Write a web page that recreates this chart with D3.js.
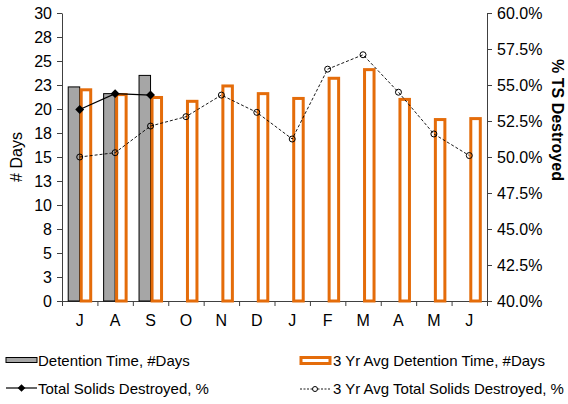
<!DOCTYPE html>
<html>
<head>
<meta charset="utf-8">
<script src="https://cdn.jsdelivr.net/npm/d3@7"></script>
<style>
  body { margin: 0; background: #fff; }
  svg { font-family: "Liberation Sans", Arial, sans-serif; }
  .axis path, .axis line { stroke: #404040; }
  .axis text { font-size: 16px; fill: #000; }
</style>
</head>
<body>
<svg id="chart" width="568" height="404"></svg>
<script>
// months (Jul .. Jun)
const months = ["J", "A", "S", "O", "N", "D", "J", "F", "M", "A", "M", "J"];
// detention time, days (only first three months reported)
const detention = [22.3, 21.6, 23.5];
// 3 yr avg detention time, days
const avgDetention = [22.0, 21.5, 21.2, 20.8, 22.4, 21.6, 21.1, 23.2, 24.1, 21.0, 18.9, 19.0];
// total solids destroyed, %
const tsDestroyed = [53.3, 54.4, 54.3];
// 3 yr avg total solids destroyed, %
const avgTsDestroyed = [50.0, 50.3, 52.15, 52.8, 54.3, 53.1, 51.25, 56.1, 57.1, 54.5, 51.6, 50.1];
// left axis tick values and their (rounded) labels
const leftTicks = [0, 2.5, 5, 7.5, 10, 12.5, 15, 17.5, 20, 22.5, 25, 27.5, 30];
const leftTickLabels = ["0", "3", "5", "8", "10", "13", "15", "18", "20", "23", "25", "28", "30"];
const rightTicks = [40, 42.5, 45, 47.5, 50, 52.5, 55, 57.5, 60];
const legendLabels = ["Detention Time, #Days", "3 Yr Avg Detention Time, #Days",
                      "Total Solids Destroyed, %", "3 Yr Avg Total Solids Destroyed, %"];

const plotLeft = 62, plotRight = 487, plotTop = 13, plotBottom = 301;
const orange = "#e46c0a", grey = "#a6a6a6";

const svg = d3.select("#chart");

const x = d3.scaleBand().domain(d3.range(months.length)).range([plotLeft, plotRight]);
const xEdge = d3.scaleLinear().domain([0, months.length]).range([plotLeft, plotRight]);
const y = d3.scaleLinear().domain([0, 30]).range([plotBottom, plotTop]);
const y2 = d3.scaleLinear().domain([40, 60]).range([plotBottom, plotTop]);
const cx = i => x(i) + x.bandwidth() / 2;

// axes
svg.append("g")
    .attr("class", "axis")
    .attr("transform", `translate(${plotLeft},0)`)
    .call(d3.axisLeft(y).tickValues(leftTicks).tickSize(5).tickSizeOuter(0)
        .tickFormat((d, i) => leftTickLabels[i]))
    .call(g => g.selectAll("text").attr("dx", "-2"));

svg.append("g")
    .attr("class", "axis")
    .attr("transform", `translate(${plotRight},0)`)
    .call(d3.axisRight(y2).tickValues(rightTicks).tickSize(5).tickSizeOuter(0)
        .tickFormat(d => d3.format(".1f")(d) + "%"))
    .call(g => g.selectAll("text").attr("dx", "2"));

svg.append("g")
    .attr("class", "axis")
    .attr("transform", `translate(0,${plotBottom})`)
    .call(d3.axisBottom(xEdge).tickValues(d3.range(months.length + 1)).tickSize(5)
        .tickSizeOuter(0).tickFormat(""));

svg.append("g")
    .attr("class", "axis")
    .selectAll("text")
    .data(months)
    .join("text")
    .attr("x", (d, i) => cx(i))
    .attr("y", 326)
    .attr("text-anchor", "middle")
    .text(d => d);

// axis titles
svg.append("text")
    .attr("transform", `translate(22,157) rotate(-90)`)
    .attr("text-anchor", "middle")
    .style("font-size", "16px")
    .text("# Days");

svg.append("text")
    .attr("transform", `translate(552,120) rotate(90)`)
    .attr("text-anchor", "middle")
    .style("font-size", "16px")
    .style("font-weight", "bold")
    .text("% TS Destroyed");

// bars
svg.append("g")
    .selectAll("rect")
    .data(detention)
    .join("rect")
    .attr("x", (d, i) => cx(i) - 11.5)
    .attr("width", 11.5)
    .attr("y", d => y(d))
    .attr("height", d => plotBottom - y(d))
    .attr("fill", grey)
    .attr("stroke", "#000")
    .attr("stroke-width", 1);

svg.append("g")
    .selectAll("rect")
    .data(avgDetention)
    .join("rect")
    .attr("x", (d, i) => cx(i) + 1.5)
    .attr("width", 9.5)
    .attr("y", d => y(d))
    .attr("height", d => plotBottom - y(d))
    .attr("fill", "#fff")
    .attr("stroke", orange)
    .attr("stroke-width", 3);

// lines
const lineTs = d3.line().x((d, i) => cx(i)).y(d => y2(d));

svg.append("path")
    .datum(avgTsDestroyed)
    .attr("fill", "none")
    .attr("stroke", "#000")
    .attr("stroke-width", 0.9)
    .attr("stroke-dasharray", "3,2")
    .attr("d", lineTs);

svg.append("g")
    .selectAll("circle")
    .data(avgTsDestroyed)
    .join("circle")
    .attr("cx", (d, i) => cx(i))
    .attr("cy", d => y2(d))
    .attr("r", 3)
    .attr("fill", "none")
    .attr("stroke", "#000")
    .attr("stroke-width", 1);

svg.append("path")
    .datum(tsDestroyed)
    .attr("fill", "none")
    .attr("stroke", "#000")
    .attr("stroke-width", 1.2)
    .attr("d", lineTs);

const diamond = d3.symbol(d3.symbolSquare, 40);
svg.append("g")
    .selectAll("path")
    .data(tsDestroyed)
    .join("path")
    .attr("transform", (d, i) => `translate(${cx(i)},${y2(d)}) rotate(45)`)
    .attr("d", diamond)
    .attr("fill", "#000");

// legend
const legend = svg.append("g").style("font-size", "15px");
legend.append("rect").attr("x", 6).attr("y", 357.5).attr("width", 31).attr("height", 5)
    .attr("fill", grey).attr("stroke", "#000").attr("stroke-width", 1);
legend.append("rect").attr("x", 301).attr("y", 357.5).attr("width", 29).attr("height", 6)
    .attr("fill", "#fff").attr("stroke", orange).attr("stroke-width", 3);
legend.append("line").attr("x1", 6).attr("x2", 37).attr("y1", 388).attr("y2", 388)
    .attr("stroke", "#000").attr("stroke-width", 1.2);
legend.append("path").attr("transform", "translate(21.5,388) rotate(45)")
    .attr("d", d3.symbol(d3.symbolSquare, 30)).attr("fill", "#000");
legend.append("line").attr("x1", 300).attr("x2", 331).attr("y1", 389).attr("y2", 389)
    .attr("stroke", "#000").attr("stroke-width", 0.9).attr("stroke-dasharray", "2,1.5");
legend.append("circle").attr("cx", 315).attr("cy", 389).attr("r", 2.5)
    .attr("fill", "#fff").attr("stroke", "#000");

const legendPos = [[38, 366], [333, 366], [38, 394], [333, 394]];
legend.selectAll("text")
    .data(legendLabels)
    .join("text")
    .attr("x", (d, i) => legendPos[i][0])
    .attr("y", (d, i) => legendPos[i][1])
    .text(d => d);
</script>
</body>
</html>
